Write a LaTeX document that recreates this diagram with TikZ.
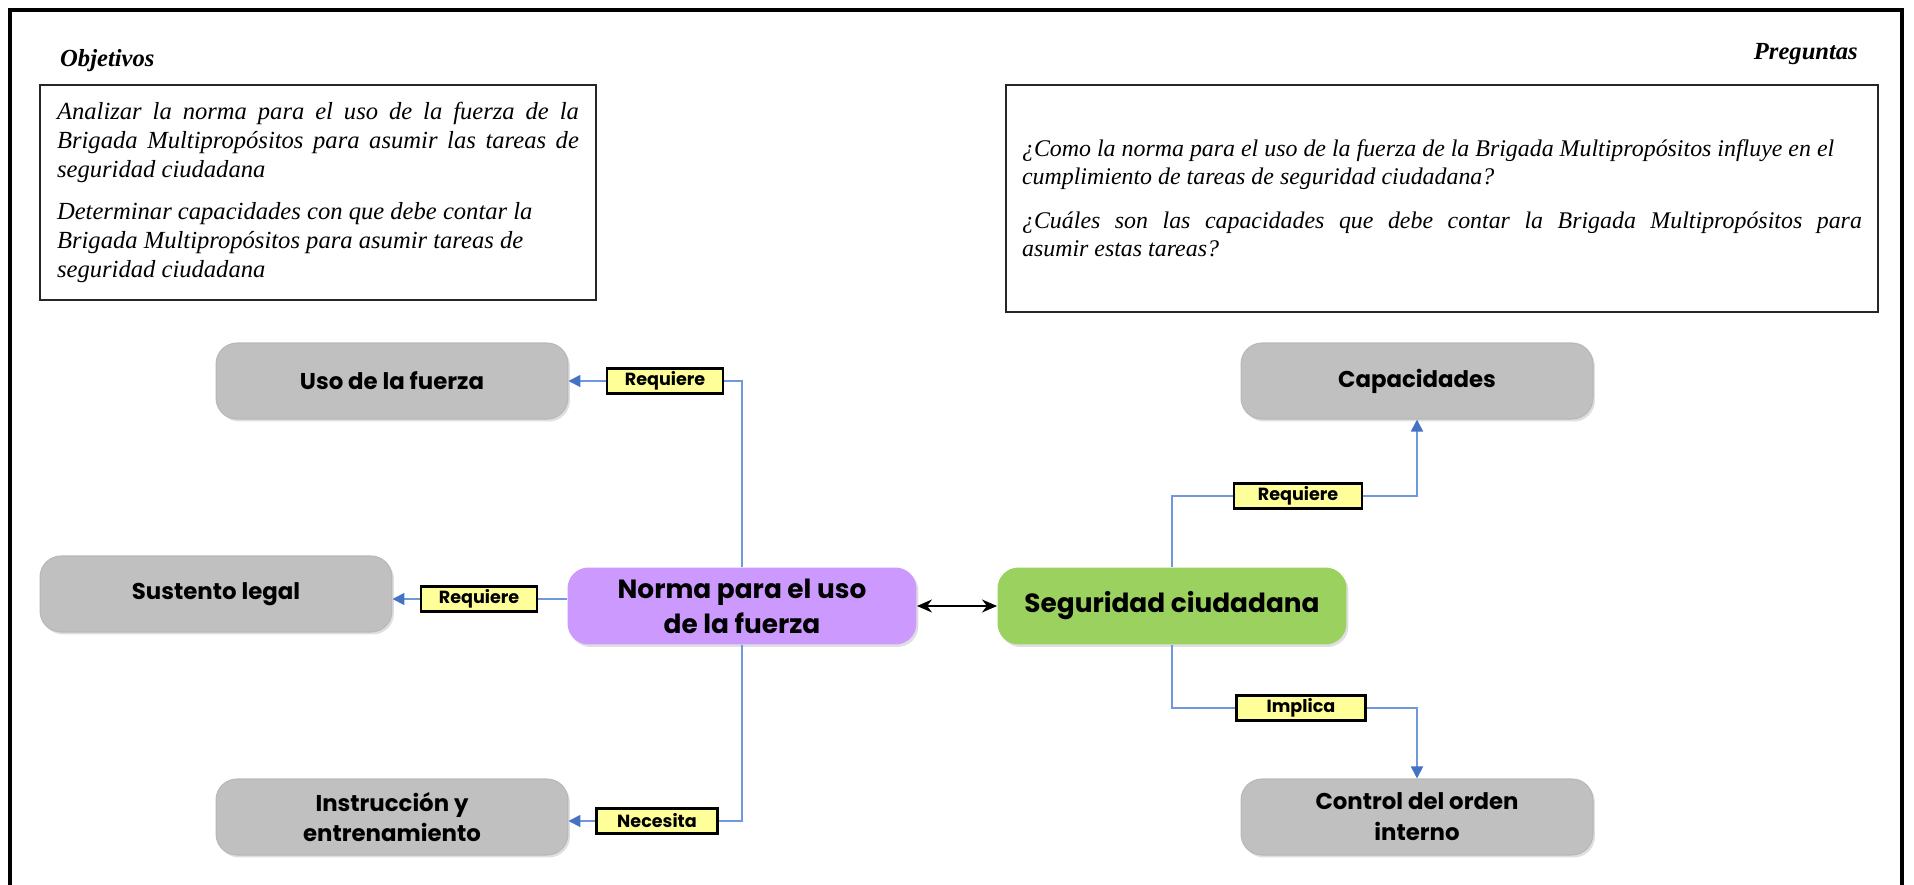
\documentclass[tikz,border=0pt]{standalone}
\usepackage{fontspec}
\setmainfont{Liberation Serif}
\newfontfamily\mapfont{Poppins}
\usepackage{tikz}
\usetikzlibrary{arrows.meta, positioning, calc, shadows}
\definecolor{nodegray}{RGB}{192, 192, 192}
\definecolor{normapurple}{RGB}{204, 153, 255}
\definecolor{segugreen}{RGB}{155, 210, 95}
\definecolor{tagyellow}{RGB}{255, 255, 153}
\definecolor{linkblue}{RGB}{112, 152, 222}
\definecolor{tipblue}{RGB}{68, 114, 196}

\tikzset{
  concept/.style={rounded corners=0.42cm, minimum width=7.04cm, minimum height=1.52cm,
    align=center, fill=nodegray, draw=black!28, line width=0.6pt,
    font=\mapfont\bfseries\fontsize{13}{17.5}\selectfont,
    drop shadow={opacity=0.25, shadow xshift=0.04cm, shadow yshift=-0.05cm}},
  core/.style={concept, minimum width=6.98cm, minimum height=1.54cm, draw=none,
    font=\mapfont\bfseries\fontsize{15}{20}\selectfont},
  tag/.style={draw=black, line width=1.2pt, fill=tagyellow, minimum width=2.32cm,
    minimum height=0.5cm, inner sep=0pt, font=\mapfont\bfseries\fontsize{10}{11}\selectfont},
  textbox/.style={draw=black!85, line width=0.9pt, align=justify, inner sep=0pt,
    font=\itshape\fontsize{14}{16.5}\selectfont},
  boxtitle/.style={font=\bfseries\itshape\fontsize{14}{16}\selectfont},
  link/.style={linkblue, line width=1pt, >={Triangle[length=0.24cm, width=0.24cm, fill=tipblue, color=tipblue]}}
}

\begin{document}
\begin{tikzpicture}[x=0.02cm, y=-0.02cm]
    \useasboundingbox (0,0) rectangle (1914,885);

    % Outer frame
    \draw[line width=2.2pt] (10,895) -- (10,10) -- (1902,10) -- (1902,895);

    % Objetivos
    \node[boxtitle, anchor=west] (objtitle) at (54,61) {Objetivos};
    \node[textbox, minimum width=11.12cm, minimum height=4.3cm, text width=10.44cm] (objbox) at (318,192.5)
      {Analizar la norma para el uso de la fuerza de la\linebreak
       Brigada Multipropósitos para asumir las tareas de\linebreak
       seguridad ciudadana\par\vspace{7pt}
       Determinar capacidades con que debe contar la\newline
       Brigada Multipropósitos para asumir tareas de\newline
       seguridad ciudadana};

    % Preguntas
    \node[boxtitle, anchor=east] (pregtitle) at (1864,54) {Preguntas};
    \node[textbox, minimum width=17.44cm, minimum height=4.54cm, text width=16.8cm,
      font=\itshape\fontsize{13.6}{16}\selectfont] (pregbox) at (1442,198.5)
      {¿Como la norma para el uso de la fuerza de la Brigada Multipropósitos influye en el\newline
       cumplimiento de tareas de seguridad ciudadana?\par\vspace{9pt}
       ¿Cuáles son las capacidades que debe contar la Brigada Multipropósitos para\linebreak
       asumir estas tareas?};

    % Central concepts
    \node[core, fill=normapurple] (norma) at (742,606) {Norma para el uso\\de la fuerza};
    \node[core, fill=segugreen] (segu) at (1172,606) {Seguridad ciudadana};

    % Left branch
    \node[concept] (uso) at (392,381) {Uso de la fuerza};
    \node[concept] (sustento) at (216,594) {Sustento legal};
    \node[concept] (instruccion) at (392,817) {Instrucción y\\entrenamiento};

    % Right branch
    \node[concept] (capacidades) at (1417,381) {Capacidades};
    \node[concept] (control) at (1417,817) {Control del orden\\interno};

    % Relation tags
    \node[tag] (requso) at (665,381) {Requiere};
    \node[tag] (reqsus) at (479,599) {Requiere};
    \node[tag, minimum width=2.42cm] (necesita) at (657,821) {Necesita};
    \node[tag, minimum width=2.56cm] (reqcap) at (1298,496) {Requiere};
    \node[tag, minimum width=2.58cm] (implica) at (1301,708) {Implica};

    % Connectors
    \draw[link] (norma.north) |- (requso.east);
    \draw[link, ->] (requso.west) -- (uso.east);
    \draw[link] (reqsus.east) -- (reqsus.east -| norma.west);
    \draw[link, ->] (reqsus.west) -- (reqsus.west -| sustento.east);
    \draw[link] (norma.south) |- (necesita.east);
    \draw[link, ->] (necesita.west) -- (necesita.west -| instruccion.east);
    \draw[link] (segu.north) |- (reqcap.west);
    \draw[link, ->] (reqcap.east) -| (capacidades.south);
    \draw[link] (segu.south) |- (implica.west);
    \draw[link, ->] (implica.east) -| (control.north);

    % Norma <-> Seguridad
    \draw[line width=1pt, {Stealth[length=0.3cm, width=0.26cm]}-{Stealth[length=0.3cm, width=0.26cm]}] (norma.east) -- (segu.west);
\end{tikzpicture}
\end{document}
